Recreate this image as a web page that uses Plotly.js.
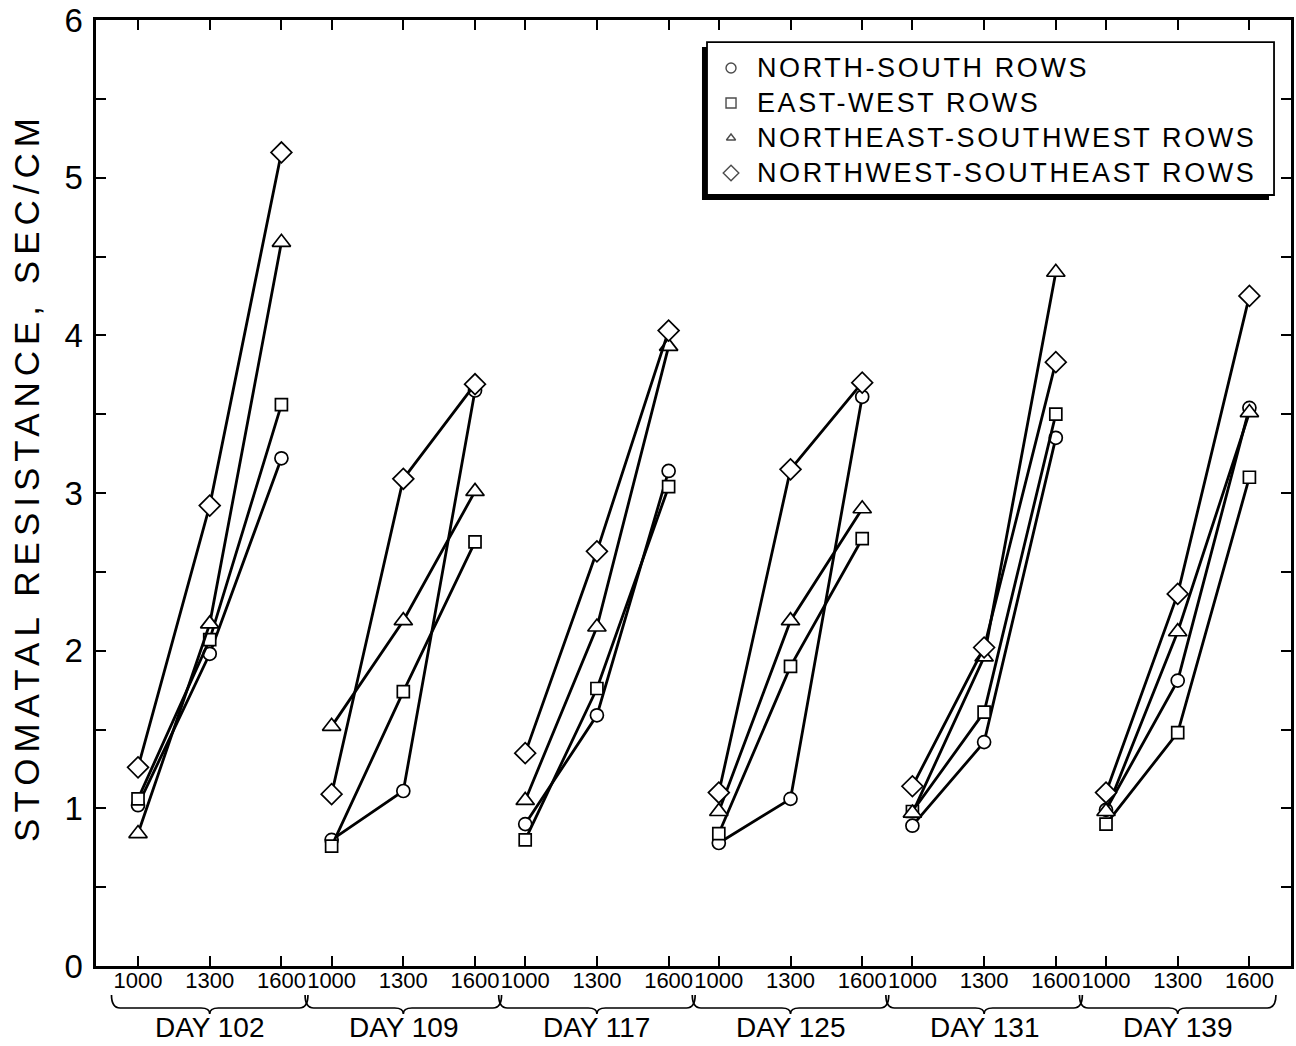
<!DOCTYPE html>
<html>
<head>
<meta charset="utf-8">
<script src="https://cdn.plot.ly/plotly-3.0.1.min.js"></script>
<style>
  html, body { margin: 0; padding: 0; background: #ffffff; }
  #chart { width: 1296px; height: 1046px; }
</style>
</head>
<body>
<div id="chart"></div>
<script>
// ---- data ----
const days = ['DAY 102', 'DAY 109', 'DAY 117', 'DAY 125', 'DAY 131', 'DAY 139'];
const times = ['1000', '1300', '1600'];

const seriesNames = [
  'NORTH-SOUTH ROWS',
  'EAST-WEST ROWS',
  'NORTHEAST-SOUTHWEST ROWS',
  'NORTHWEST-SOUTHEAST ROWS'
];

// values per day: [1000, 1300, 1600]
const northSouth = [1.02, 1.98, 3.22,  0.80, 1.11, 3.65,  0.90, 1.59, 3.14,  0.78, 1.06, 3.61,  0.89, 1.42, 3.35,  0.99, 1.81, 3.54];
const eastWest   = [1.06, 2.07, 3.56,  0.76, 1.74, 2.69,  0.80, 1.76, 3.04,  0.84, 1.90, 2.71,  0.98, 1.61, 3.50,  0.90, 1.48, 3.10];
const neSw       = [0.84, 2.17, 4.59,  1.52, 2.19, 3.01,  1.05, 2.15, 3.93,  0.98, 2.19, 2.90,  0.97, 1.96, 4.40,  0.98, 2.12, 3.51];
const nwSe       = [1.26, 2.92, 5.16,  1.09, 3.09, 3.69,  1.35, 2.63, 4.03,  1.10, 3.15, 3.70,  1.14, 2.02, 3.83,  1.10, 2.36, 4.25];

const yTickLabels = ['0', '1', '2', '3', '4', '5', '6'];
const yTitle = 'STOMATAL RESISTANCE, SEC/CM';

// ---- layout helpers ----
const GROUP_STEP = 2.7;   // distance between days, in time-step units
const FONT = 'Liberation Sans, Arial, sans-serif';

function xPositions() {
  const out = [];
  days.forEach((d, g) => {
    times.forEach((t, i) => out.push(g * GROUP_STEP + i));
    out.push(null);
  });
  return out;
}
function yWithGaps(vals) {
  const out = [];
  days.forEach((d, g) => {
    times.forEach((t, i) => out.push(vals[g * times.length + i]));
    out.push(null);
  });
  return out;
}

const xs = xPositions();
const tickvals = xs.filter(v => v !== null);
const ticktext = [];
days.forEach(() => times.forEach(t => ticktext.push(t)));

const symbols = ['circle', 'square', 'triangle-up', 'diamond'];
const sizes = [13, 12, 16, 16];
const allSeries = [northSouth, eastWest, neSw, nwSe];

const traces = allSeries.map((vals, k) => ({
  type: 'scatter',
  mode: 'lines+markers',
  name: seriesNames[k],
  x: xs,
  y: yWithGaps(vals),
  connectgaps: false,
  showlegend: false,
  line: { color: '#000', width: 2.8 },
  marker: {
    symbol: symbols[k],
    size: sizes[k],
    color: '#ffffff',
    line: { color: '#000', width: 1.7 }
  },
  hoverinfo: 'x+y'
}));

// legend key markers (on an invisible overlay axis 0..1)
const legendRowsY = [0.9493, 0.9123, 0.8753, 0.8383];
const legendSizes = [10, 10, 8, 12];
traces.push({
  type: 'scatter',
  mode: 'markers',
  xaxis: 'x2',
  yaxis: 'y2',
  x: legendRowsY.map(() => 0.5314),
  y: legendRowsY,
  showlegend: false,
  hoverinfo: 'skip',
  marker: {
    symbol: symbols,
    size: legendSizes,
    color: '#ffffff',
    line: { color: '#000', width: 1.4 }
  }
});

// ---- shapes: braces under each day + legend box ----
const shapes = [];
const yTop = -0.0307, yMid = -0.0444, yTip = -0.0507;
days.forEach((d, g) => {
  const x0 = g * GROUP_STEP - 0.37;
  const x1 = g * GROUP_STEP + 2.37;
  const xm = g * GROUP_STEP + 1;
  const dx = 0.12;
  const path = `M ${x0},${yTop} Q ${x0},${yMid} ${x0 + dx},${yMid} L ${xm - dx},${yMid} Q ${xm},${yMid} ${xm},${yTip} ` +
               `Q ${xm},${yMid} ${xm + dx},${yMid} L ${x1 - dx},${yMid} Q ${x1},${yMid} ${x1},${yTop}`;
  shapes.push({ type: 'path', xref: 'x', yref: 'paper', path: path, line: { color: '#000', width: 1.7 } });
});
// legend shadow and box
shapes.push({ type: 'rect', xref: 'paper', yref: 'paper', layer: 'below',
  x0: 0.5071, x1: 0.9816, y0: 0.8097, y1: 0.9714, fillcolor: '#000', line: { width: 0 } });
shapes.push({ type: 'rect', xref: 'paper', yref: 'paper', layer: 'below',
  x0: 0.5113, x1: 0.9858, y0: 0.8150, y1: 0.9767, fillcolor: '#fff', line: { color: '#000', width: 1.8 } });

// ---- annotations ----
const annotations = [];
annotations.push({
  text: yTitle, xref: 'paper', yref: 'paper', x: 0, y: 0.517, xshift: -69,
  xanchor: 'center', yanchor: 'middle', textangle: -90, showarrow: false,
  font: { family: FONT, size: 35, color: '#000' }
});
days.forEach((d, g) => {
  annotations.push({
    text: d, xref: 'x', yref: 'paper', x: g * GROUP_STEP + 1, y: -0.0645,
    xanchor: 'center', yanchor: 'middle', showarrow: false,
    font: { family: FONT, size: 28, color: '#000' }
  });
});
seriesNames.forEach((n, k) => {
  annotations.push({
    text: n, xref: 'paper', yref: 'paper', x: 0.5515, y: legendRowsY[k],
    xanchor: 'left', yanchor: 'middle', align: 'left', showarrow: false,
    font: { family: FONT, size: 27, color: '#000' }
  });
});

const layout = {
  width: 1296,
  height: 1046,
  margin: { l: 96, r: 5, t: 20, b: 80 },
  paper_bgcolor: '#ffffff',
  plot_bgcolor: '#ffffff',
  showlegend: false,
  font: { family: FONT, color: '#000' },
  xaxis: {
    range: [-0.586, 16.08],
    tickvals: tickvals,
    ticktext: ticktext,
    ticks: 'inside',
    ticklen: 10,
    tickwidth: 2,
    tickcolor: '#000',
    showline: true,
    linecolor: '#000',
    linewidth: 2.6,
    mirror: 'ticks',
    showgrid: false,
    zeroline: false,
    tickangle: 0,
    tickfont: { family: FONT, size: 22, color: '#000' },
    ticklabelstandoff: -7
  },
  yaxis: {
    range: [0, 6],
    tickvals: [0, 0.5, 1, 1.5, 2, 2.5, 3, 3.5, 4, 4.5, 5, 5.5, 6],
    ticktext: yTickLabels.flatMap((t, i) => i < yTickLabels.length - 1 ? [t, ''] : [t]),
    ticks: 'inside',
    ticklen: 10,
    tickwidth: 2,
    tickcolor: '#000',
    showline: true,
    linecolor: '#000',
    linewidth: 2.6,
    mirror: 'ticks',
    showgrid: false,
    zeroline: false,
    tickfont: { family: FONT, size: 33, color: '#000' },
    ticklabelstandoff: 4
  },
  xaxis2: { overlaying: 'x', anchor: 'y2', range: [0, 1], visible: false, fixedrange: true },
  yaxis2: { overlaying: 'y', anchor: 'x2', range: [0, 1], visible: false, fixedrange: true },
  shapes: shapes,
  annotations: annotations
};

Plotly.newPlot('chart', traces, layout, { displayModeBar: false, staticPlot: true }).then(() => {
  const ann = document.querySelectorAll('#chart .annotation-text');
  ann.forEach((el, i) => {
    if (i === 0) el.style.letterSpacing = '6px';
    else if (i > days.length) el.style.letterSpacing = '2.6px';
  });
});
</script>
</body>
</html>
